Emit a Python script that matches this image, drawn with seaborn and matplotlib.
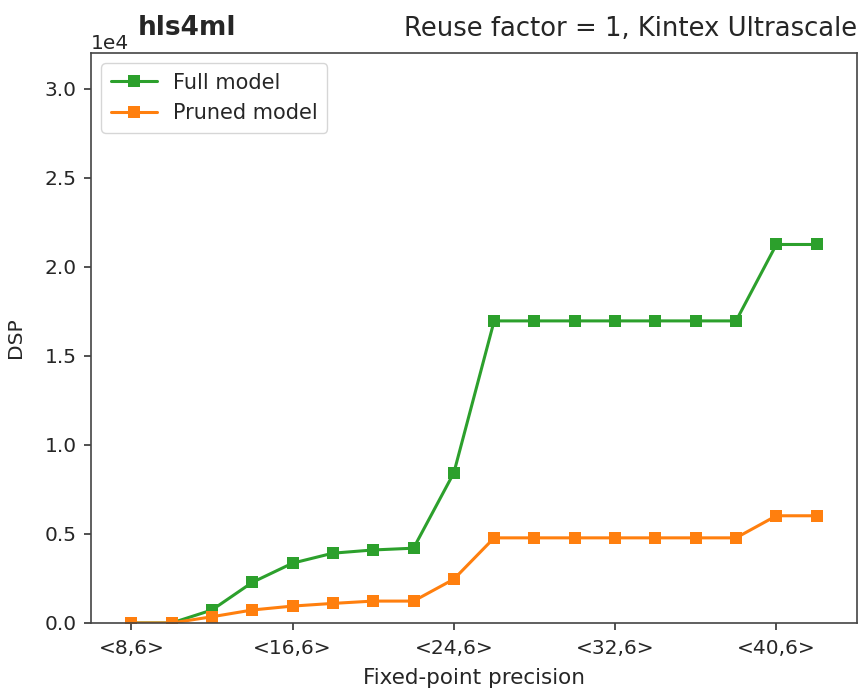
import matplotlib
matplotlib.use("Agg")
import matplotlib.pyplot as plt
import seaborn as sns
import pandas as pd

# Total bit width of the fixed-point type <W,6>
bits = [8, 10, 12, 14, 16, 18, 20, 22, 24, 26, 28, 30, 32, 34, 36, 38, 40, 42]
full_dsp = [0, 0, 730, 2280, 3360, 3920, 4100, 4200, 8430, 16960,
            16960, 16960, 16960, 16960, 16960, 16960, 21250, 21250]
pruned_dsp = [0, 0, 350, 730, 950, 1100, 1230, 1230, 2460, 4780,
              4780, 4780, 4780, 4780, 4780, 4780, 6020, 6020]
tick_bits = [8, 16, 24, 32, 40]
tick_labels = ["<8,6>", "<16,6>", "<24,6>", "<32,6>", "<40,6>"]
series = ["Full model", "Pruned model"]
colors = ["#2ca02c", "#ff7f0e"]

df = pd.DataFrame({
    "bits": bits * 2,
    "dsp": full_dsp + pruned_dsp,
    "model": [series[0]] * len(bits) + [series[1]] * len(bits),
})

sns.set_style("ticks")
plt.rcParams["font.family"] = ["DejaVu Sans"]
fs = 14.5

fig = plt.figure(figsize=(8.61, 6.89), dpi=100)
ax = fig.add_axes([91 / 861, 1 - 623 / 689, 766 / 861, 570 / 689])

sns.lineplot(data=df, x="bits", y="dsp", hue="model", hue_order=series,
             palette=colors, marker="s", markersize=9, markeredgewidth=0,
             linewidth=2.2, ax=ax)

ax.set_xlim(6, 44)
ax.set_ylim(0, 32000)
ax.set_xticks(tick_bits)
ax.set_xticklabels(tick_labels)
ax.set_yticks([0, 5000, 10000, 15000, 20000, 25000, 30000])
ax.ticklabel_format(axis="y", style="sci", scilimits=(0, 0))
ax.yaxis.get_offset_text().set_fontsize(fs)

ax.tick_params(axis="both", labelsize=fs, length=5.2, width=1.2, color="#333333")
ax.tick_params(axis="x", pad=6.5)
ax.tick_params(axis="y", pad=5)
for sp in ax.spines.values():
    sp.set_linewidth(1.2)
    sp.set_color("#444444")

ax.set_xlabel("Fixed-point precision", fontsize=15.5, labelpad=7)
ax.set_ylabel("DSP", fontsize=fs, labelpad=14)

ax.set_title("Reuse factor = 1, Kintex Ultrascale", loc="right", fontsize=18.6,
             pad=12)
ax.text(0.061, 1.032, "hls4ml", transform=ax.transAxes, fontsize=19,
        fontweight="bold", ha="left", va="baseline")

leg = ax.legend(loc="upper left", fontsize=15, frameon=True,
                handlelength=2.2, borderpad=0.45)
leg.get_frame().set_edgecolor("#cccccc")

fig.savefig("out.png", dpi=100)
